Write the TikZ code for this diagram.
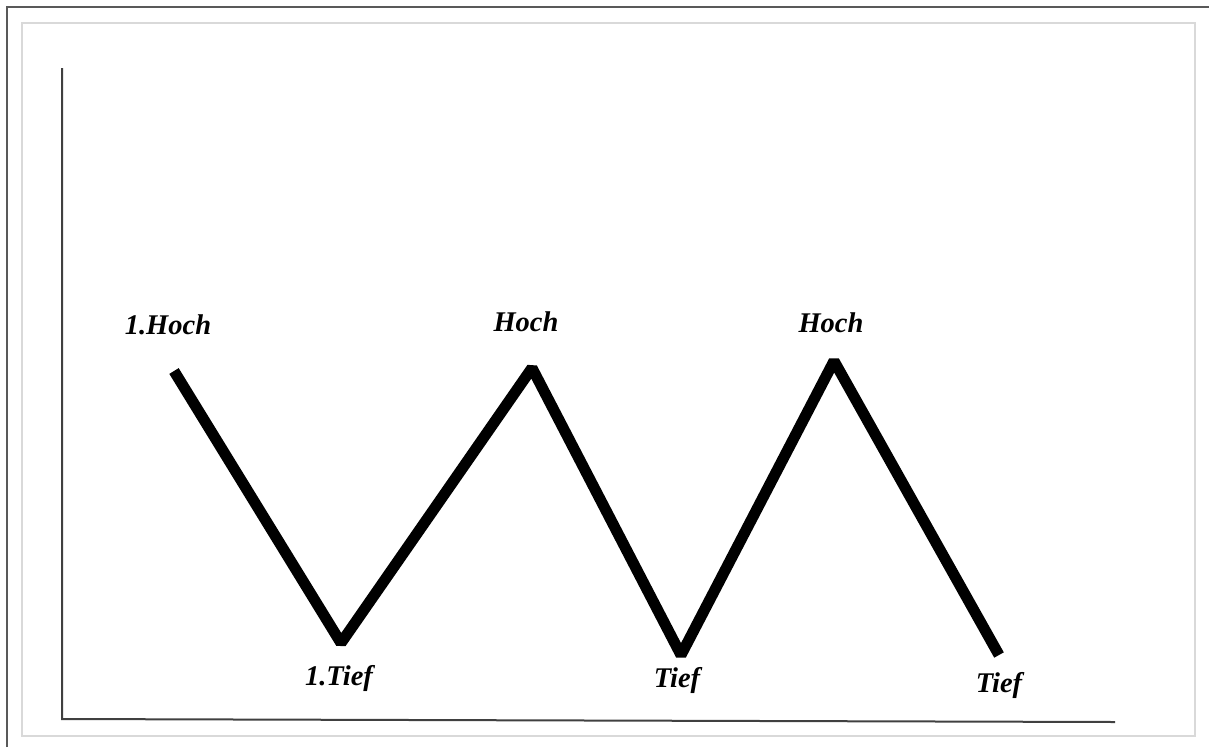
\documentclass[tikz,border=0pt]{standalone}
\usepackage{fontspec}
\setmainfont{Liberation Serif}
\begin{document}
\begin{tikzpicture}[x=1pt,y=-1pt,
  lbl/.style={font=\fontsize{28.5}{30}\selectfont\bfseries\itshape, anchor=base, inner sep=0pt},
  zig/.style={line width=11pt, line join=bevel, line cap=butt},
  axis/.style={draw=black!75, line width=2pt},
  frameout/.style={draw=black!65, line width=2pt},
  framein/.style={draw=black!15, line width=2pt}]
\useasboundingbox (0,0) rectangle (1209,747);
% frames
\coordinate (fo1) at (6.5,747);
\coordinate (fo2) at (6.5,6.5);
\coordinate (fo3) at (1209,6.5);
\draw[frameout] (fo1) -- (fo2) -- (fo3);
\coordinate (fi1) at (22,23);
\coordinate (fi2) at (1195,736);
\draw[framein] (fi1) rectangle (fi2);
% axes
\coordinate (ytop) at (62,68);
\coordinate (origin) at (62,719);
\coordinate (xend) at (1115,722);
\draw[axis] (ytop) -- (origin) -- (xend);
% zigzag
\coordinate (p0) at (174,371);
\coordinate (p1) at (341,643);
\coordinate (p2) at (532,368);
\coordinate (p3) at (681,655);
\coordinate (p4) at (834,361);
\coordinate (p5) at (999,655);
\draw[zig] (p0) -- (p1) -- (p2) -- (p3) -- (p4) -- (p5);
% labels
\node[lbl] (l0) at (168,334) {1.Hoch};
\node[lbl] (l1) at (339,685) {1.Tief};
\node[lbl] (l2) at (526,331) {Hoch};
\node[lbl] (l3) at (677,687) {Tief};
\node[lbl] (l4) at (831,332) {Hoch};
\node[lbl] (l5) at (999,692) {Tief};
\end{tikzpicture}
\end{document}
